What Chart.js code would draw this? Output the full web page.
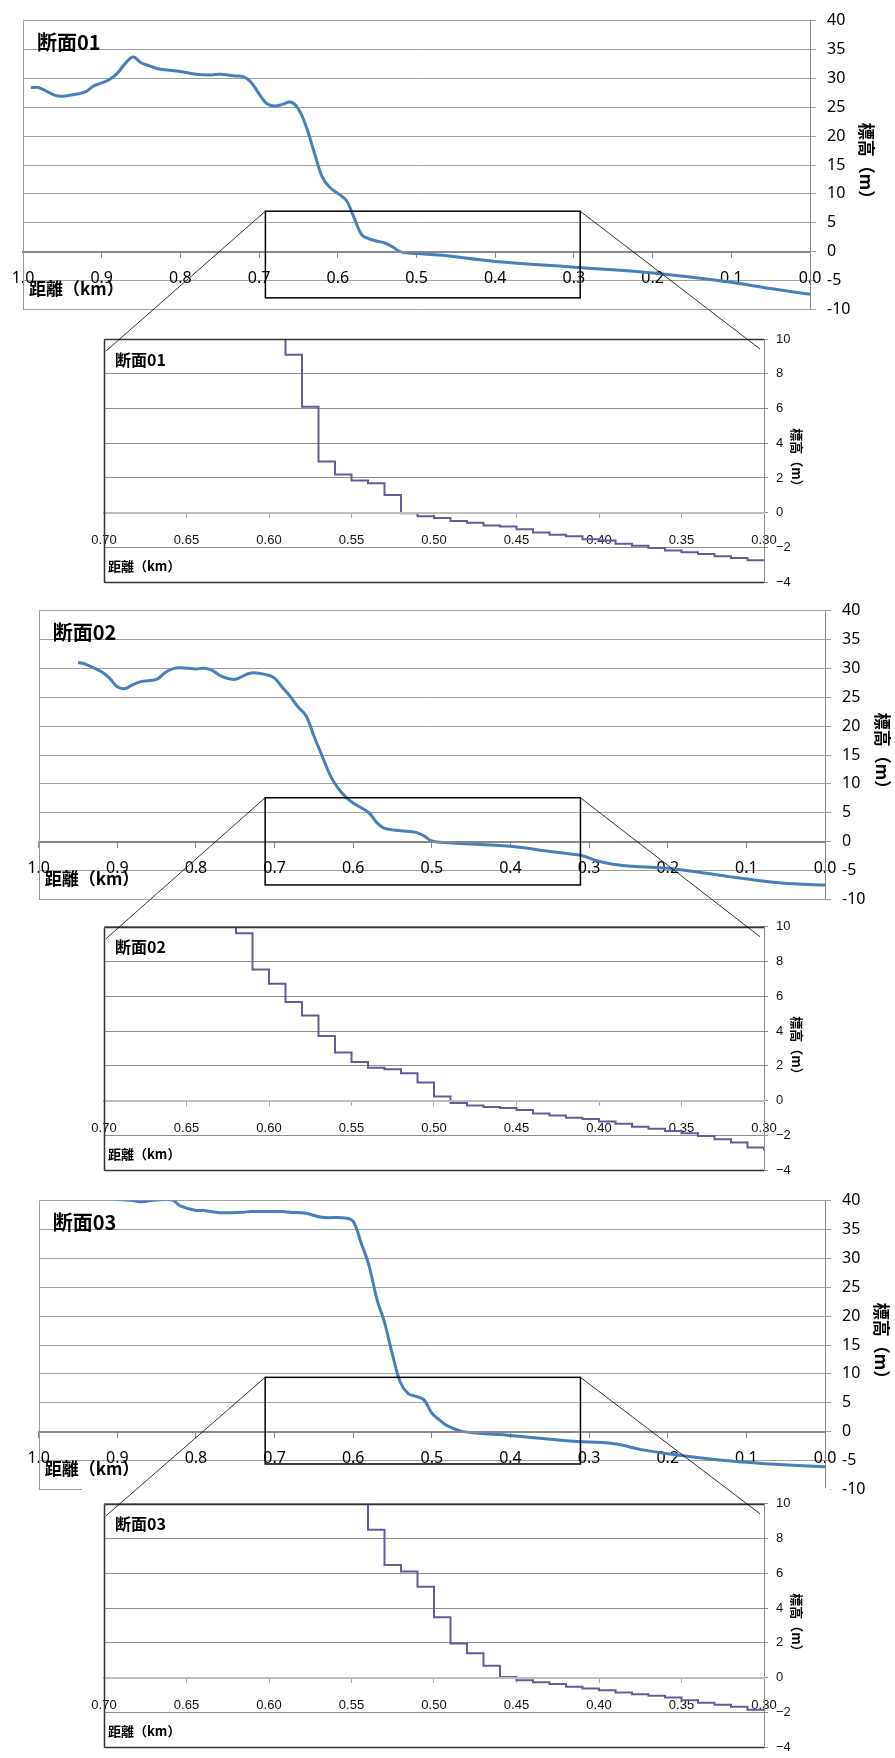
<!DOCTYPE html>
<html>
<head>
<meta charset="utf-8">
<script src="https://cdn.jsdelivr.net/npm/chart.js@4.4.0/dist/chart.umd.min.js"></script>
<style>
html, body { margin: 0; padding: 0; background: #fff; overflow: hidden; }
#page { position: relative; width: 895px; height: 1758px; background: #fff; }
#page canvas { position: absolute; }
</style>
</head>
<body>
<div id="page"></div>
<script>
const sectionNames = ['断面01', '断面02', '断面03'];
const xTitle = '距離（km）';
const yTitle = '標高（m）';

// overview profiles: distance (km) and elevation (m)
const km01 = [0.99, 0.98, 0.96, 0.95, 0.93, 0.92, 0.91, 0.90, 0.89, 0.88, 0.87, 0.86, 0.85, 0.84, 0.83, 0.82, 0.80, 0.78, 0.76, 0.75,
  0.73, 0.72, 0.71, 0.70, 0.69, 0.68, 0.67, 0.66, 0.65, 0.64, 0.63, 0.62, 0.61, 0.59, 0.58, 0.57, 0.56, 0.55, 0.54, 0.53,
  0.52, 0.50, 0.47, 0.40, 0.30, 0.20, 0.10, 0.05, 0.00];
const elev01 = [28.4, 28.4, 27.1, 26.9, 27.3, 27.7, 28.7, 29.2, 29.8, 30.9, 32.6, 33.7, 32.7, 32.2, 31.7, 31.5, 31.2, 30.7, 30.6, 30.7,
  30.4, 30.3, 29.3, 27.3, 25.6, 25.2, 25.5, 25.9, 24.7, 21.6, 17.2, 13.0, 11.1, 9.0, 6.1, 3.0, 2.2, 1.8, 1.5, 0.8,
  -0.05, -0.33, -0.6, -1.7, -2.7, -3.7, -5.3, -6.4, -7.4];

const km02 = [0.95, 0.94, 0.92, 0.91, 0.90, 0.89, 0.88, 0.87, 0.85, 0.84, 0.83, 0.82, 0.80, 0.79, 0.78, 0.77, 0.76, 0.75, 0.73, 0.71,
  0.70, 0.69, 0.68, 0.67, 0.66, 0.65, 0.64, 0.63, 0.62, 0.61, 0.60, 0.58, 0.57, 0.56, 0.54, 0.52, 0.51, 0.50, 0.48, 0.40,
  0.35, 0.31, 0.29, 0.27, 0.24, 0.20, 0.16, 0.12, 0.08, 0.04, 0.00];
const elev02 = [31.0, 30.7, 29.4, 28.3, 26.8, 26.5, 27.2, 27.7, 28.1, 29.2, 29.9, 30.1, 29.9, 30.0, 29.7, 28.8, 28.3, 28.1, 29.2, 28.9,
  28.3, 26.7, 25.1, 23.3, 21.8, 18.3, 15.0, 11.7, 9.4, 7.8, 6.7, 5.0, 3.3, 2.3, 1.9, 1.6, 1.0, 0.1, -0.2, -0.8,
  -1.7, -2.4, -3.3, -3.9, -4.3, -4.6, -5.3, -6.1, -6.8, -7.3, -7.5];

const km03 = [0.92, 0.90, 0.88, 0.87, 0.85, 0.83, 0.82, 0.80, 0.79, 0.77, 0.74, 0.73, 0.69, 0.68, 0.66, 0.64, 0.61, 0.60, 0.59, 0.58,
  0.57, 0.56, 0.55, 0.54, 0.53, 0.52, 0.51, 0.50, 0.49, 0.48, 0.46, 0.40, 0.32, 0.27, 0.23, 0.19, 0.12, 0.07, 0.00];
const elev03 = [40.6, 40.2, 40.0, 39.8, 40.1, 40.1, 39.1, 38.3, 38.3, 37.9, 38.0, 38.1, 38.1, 38.0, 37.8, 37.1, 37.0, 36.4, 32.7, 28.8,
  23.0, 18.8, 13.3, 8.5, 6.6, 6.1, 5.5, 3.2, 2.0, 1.0, 0.0, -0.67, -1.67, -2.06, -3.2, -4.0, -5.1, -5.6, -6.1];

// enlarged 0.70-0.30 km sections, 10 m step values
const zoomKm01 = [0.60, 0.59, 0.58, 0.57, 0.56, 0.55, 0.54, 0.53, 0.52, 0.51, 0.50, 0.49, 0.48, 0.47, 0.46, 0.45,
  0.44, 0.43, 0.42, 0.41, 0.40, 0.39, 0.38, 0.37, 0.36, 0.35, 0.34, 0.33, 0.32, 0.31, 0.30];
const zoomElev01 = [11.5, 9.1, 6.1, 2.95, 2.2, 1.86, 1.69, 1.02, -0.03, -0.2, -0.3, -0.47, -0.58, -0.74, -0.8, -0.95,
  -1.14, -1.27, -1.36, -1.53, -1.6, -1.79, -1.9, -2.03, -2.18, -2.27, -2.38, -2.51, -2.6, -2.74, -2.76];

const zoomKm02 = [0.63, 0.62, 0.61, 0.60, 0.59, 0.58, 0.57, 0.56, 0.55, 0.54, 0.53, 0.52, 0.51, 0.50, 0.49, 0.48, 0.47,
  0.46, 0.45, 0.44, 0.43, 0.42, 0.41, 0.40, 0.39, 0.38, 0.37, 0.36, 0.35, 0.34, 0.33, 0.32, 0.31, 0.30];
const zoomElev02 = [11.5, 9.63, 7.54, 6.72, 5.67, 4.89, 3.72, 2.76, 2.22, 1.89, 1.80, 1.57, 1.04, 0.24, -0.13, -0.28, -0.36,
  -0.43, -0.54, -0.74, -0.85, -0.98, -1.06, -1.2, -1.33, -1.5, -1.61, -1.74, -1.87, -2.04, -2.22, -2.41, -2.69, -2.87];

const zoomKm03 = [0.55, 0.54, 0.53, 0.52, 0.51, 0.50, 0.49, 0.48, 0.47, 0.46, 0.45, 0.44, 0.43,
  0.42, 0.41, 0.40, 0.39, 0.38, 0.37, 0.36, 0.35, 0.34, 0.33, 0.32, 0.31, 0.30];
const zoomElev03 = [11.0, 8.51, 6.48, 6.11, 5.23, 3.48, 1.97, 1.40, 0.69, 0.04, -0.15, -0.26, -0.37,
  -0.52, -0.63, -0.73, -0.86, -0.95, -1.04, -1.14, -1.30, -1.45, -1.56, -1.68, -1.84, -1.92];

const bigKmTicks = [1.0, 0.9, 0.8, 0.7, 0.6, 0.5, 0.4, 0.3, 0.2, 0.1, 0.0];
const bigElevTicks = [-10, -5, 0, 5, 10, 15, 20, 25, 30, 35, 40];
const zoomKmTicks = [0.70, 0.65, 0.60, 0.55, 0.50, 0.45, 0.40, 0.35, 0.30];
const zoomElevTicks = [-4, -2, 0, 2, 4, 6, 8, 10];

// window marked on each overview (km from/to, m top/bottom)
const zoomWindows = [
  { km: [0.692, 0.292], elev: [7.0, -8.0] },
  { km: [0.712, 0.311], elev: [7.6, -7.5] },
  { km: [0.712, 0.311], elev: [9.4, -5.6] }
];

// ---- layout ----
const bigLayout = [
  { left: 0, top: 0, w: 895, h: 330, pad: { left: 23, top: 14, bottom: 17, right: 0 }, yWidth: 85, yTitlePad: 18 },
  { left: 0, top: 590, w: 895, h: 330, pad: { left: 38.7, top: 16.7, bottom: 14, right: 0 }, yWidth: 70, yTitlePad: 2 },
  { left: 0, top: 1180, w: 895, h: 330, pad: { left: 38.7, top: 13.3, bottom: 18, right: 0 }, yWidth: 70, yTitlePad: 3 }
];
const zoomLayout = [
  { left: 82, top: 318, w: 748, h: 280, pad: { left: 22, top: 21, bottom: 9, right: 0 } },
  { left: 82, top: 908, w: 748, h: 278, pad: { left: 22, top: 18.7, bottom: 8.3, right: 0 } },
  { left: 82, top: 1488, w: 748, h: 275, pad: { left: 22, top: 13.7, bottom: 10.3, right: 0 } }
];

const bigKm = [km01, km02, km03];
const bigElev = [elev01, elev02, elev03];
const zoomKm = [zoomKm01, zoomKm02, zoomKm03];
const zoomElev = [zoomElev01, zoomElev02, zoomElev03];

const page = document.getElementById('page');
function makeCanvas(L) {
  const c = document.createElement('canvas');
  c.width = L.w; c.height = L.h;
  c.style.left = L.left + 'px'; c.style.top = L.top + 'px';
  c.style.width = L.w + 'px'; c.style.height = L.h + 'px';
  page.appendChild(c);
  return c;
}
function points(xs, ys) { return xs.map((x, i) => ({ x: x, y: ys[i] })); }
// end labels may hang outside the plot, like the original
function noSidePadding(s) { s.paddingLeft = 0; s.paddingRight = 0; }

// frame, panel title, x-axis title and zoom window
const decor = {
  id: 'decor',
  beforeDraw(chart, args, o) {
    if (!o.whiteBg) return;
    const ctx = chart.ctx;
    ctx.save();
    ctx.fillStyle = '#fff';
    ctx.fillRect(0, 0, chart.width, chart.height);
    ctx.restore();
  },
  afterDraw(chart, args, o) {
    const { ctx, chartArea: a, scales } = chart;
    const l = Math.round(a.left) + 0.5, t = Math.round(a.top) + 0.5, b = Math.round(a.bottom) + 0.5;
    ctx.save();
    ctx.strokeStyle = o.frameColor;
    ctx.lineWidth = o.frameWidth;
    ctx.beginPath();
    ctx.moveTo(l, t); ctx.lineTo(l, b);
    if (o.fullFrame) {
      ctx.moveTo(l, t); ctx.lineTo(a.right, t);
      ctx.moveTo(l, b); ctx.lineTo(a.right, b);
    }
    ctx.stroke();

    ctx.fillStyle = '#000';
    ctx.textAlign = 'left';
    ctx.textBaseline = 'middle';
    ctx.font = o.titleFont;
    ctx.fillText(o.title, a.left + o.titleAt[0], a.top + o.titleAt[1]);
    ctx.font = o.xTitleFont;
    ctx.fillText(xTitle, a.left + o.xTitleAt[0], scales.y.getPixelForValue(0) + o.xTitleAt[1]);

    if (o.box) {
      const x1 = scales.x.getPixelForValue(o.box.km[0]), x2 = scales.x.getPixelForValue(o.box.km[1]);
      const y1 = scales.y.getPixelForValue(o.box.elev[0]), y2 = scales.y.getPixelForValue(o.box.elev[1]);
      ctx.strokeStyle = '#000';
      ctx.lineWidth = 1.5;
      ctx.strokeRect(x1, y1, x2 - x1, y2 - y1);
    }
    ctx.restore();
  }
};

function bigChart(i) {
  const L = bigLayout[i];
  return new Chart(makeCanvas(L), {
    type: 'line',
    data: {
      datasets: [{
        data: points(bigKm[i], bigElev[i]),
        borderColor: '#4a7ebb',
        borderWidth: 3,
        pointRadius: 0,
        tension: 0.35,
        fill: false
      }]
    },
    options: {
      responsive: false,
      animation: false,
      events: [],
      layout: { padding: L.pad },
      plugins: {
        legend: { display: false },
        tooltip: { enabled: false },
        decor: {
          title: sectionNames[i], titleFont: 'bold 20px "Noto Sans CJK JP"', titleAt: [14, 21.5],
          xTitleFont: 'bold 17px "Noto Sans CJK JP"', xTitleAt: [6, 37],
          frameColor: '#999', frameWidth: 1, fullFrame: false,
          box: zoomWindows[i]
        }
      },
      scales: {
        x: {
          type: 'linear', reverse: true, min: 0, max: 1, position: { y: 0 },
          afterBuildTicks: s => { s.ticks = bigKmTicks.map(v => ({ value: v })); },
          afterFit: noSidePadding,
          ticks: {
            callback: v => v.toFixed(1), autoSkip: false, maxRotation: 0,
            font: { family: 'Noto Sans', size: 16 }, color: '#000', padding: 12
          },
          grid: { drawOnChartArea: false, tickLength: 5, color: '#888' },
          border: { color: '#888', width: 2, z: 1 }
        },
        y: {
          position: 'right', min: -10, max: 40,
          afterBuildTicks: s => { s.ticks = bigElevTicks.map(v => ({ value: v })); },
          afterFit: s => { s.width = L.yWidth; },
          ticks: { font: { family: 'Noto Sans', size: 16 }, color: '#000', padding: 11 },
          grid: { color: '#a0a0a0', tickLength: 6 },
          border: { color: '#888', width: 1 },
          title: {
            display: true, text: yTitle, color: '#000',
            font: { family: 'Noto Sans CJK JP', size: 17, weight: 'bold' },
            padding: { top: L.yTitlePad, bottom: 0 }
          }
        }
      }
    },
    plugins: [decor]
  });
}

function zoomChart(i) {
  const L = zoomLayout[i];
  return new Chart(makeCanvas(L), {
    type: 'line',
    data: {
      datasets: [{
        data: points(zoomKm[i], zoomElev[i]),
        borderColor: '#5e5e9c',
        borderWidth: 2,
        pointRadius: 0,
        stepped: true,
        fill: false
      }]
    },
    options: {
      responsive: false,
      animation: false,
      events: [],
      layout: { padding: L.pad },
      plugins: {
        legend: { display: false },
        tooltip: { enabled: false },
        decor: {
          whiteBg: true,
          title: sectionNames[i], titleFont: 'bold 16px "Noto Sans CJK JP"', titleAt: [11, 20.5],
          xTitleFont: 'bold 13px "Noto Sans CJK JP"', xTitleAt: [4, 53.5],
          frameColor: '#333', frameWidth: 1.5, fullFrame: true
        }
      },
      scales: {
        x: {
          type: 'linear', reverse: true, min: 0.30, max: 0.70, position: { y: 0 },
          afterBuildTicks: s => { s.ticks = zoomKmTicks.map(v => ({ value: v })); },
          afterFit: noSidePadding,
          ticks: {
            callback: v => v.toFixed(2), autoSkip: false, maxRotation: 0,
            font: { family: 'Liberation Sans', size: 13 }, color: '#111', padding: 16
          },
          grid: { drawOnChartArea: false, tickLength: 4, color: '#aaa' },
          border: { color: '#bdbdbd', width: 2, z: 1 }
        },
        y: {
          position: 'right', min: -4, max: 10,
          afterBuildTicks: s => { s.ticks = zoomElevTicks.map(v => ({ value: v })); },
          afterFit: s => { s.width = 66; },
          ticks: {
            callback: v => String(v).replace('-', '\u2212'),
            font: { family: 'Liberation Sans', size: 13 }, color: '#111', padding: 8
          },
          grid: { color: '#8c8c8c', tickLength: 4 },
          border: { color: '#8c8c8c', width: 1 },
          title: {
            display: true, text: yTitle, color: '#000',
            font: { family: 'Noto Sans CJK JP', size: 13, weight: 'bold' },
            padding: { top: 25.5, bottom: 0 }
          }
        }
      }
    },
    plugins: [decor]
  });
}

const bigCharts = [0, 1, 2].map(bigChart);
const zoomCharts = [0, 1, 2].map(zoomChart);

// leader lines from each window to its enlarged plot
const overlay = makeCanvas({ left: 0, top: 0, w: 895, h: 1758 });
overlay.style.pointerEvents = 'none';
const octx = overlay.getContext('2d');
octx.strokeStyle = '#000';
octx.lineWidth = 0.8;
bigCharts.forEach((big, i) => {
  const bl = bigLayout[i], zl = zoomLayout[i], win = zoomWindows[i];
  const a = zoomCharts[i].chartArea;
  const topY = bl.top + big.scales.y.getPixelForValue(win.elev[0]);
  octx.beginPath();
  octx.moveTo(bl.left + big.scales.x.getPixelForValue(win.km[0]), topY);
  octx.lineTo(zl.left + a.left + 2, zl.top + a.top + 12);
  octx.moveTo(bl.left + big.scales.x.getPixelForValue(win.km[1]), topY);
  octx.lineTo(zl.left + a.right - 4, zl.top + a.top + 10);
  octx.stroke();
});
</script>
</body>
</html>
